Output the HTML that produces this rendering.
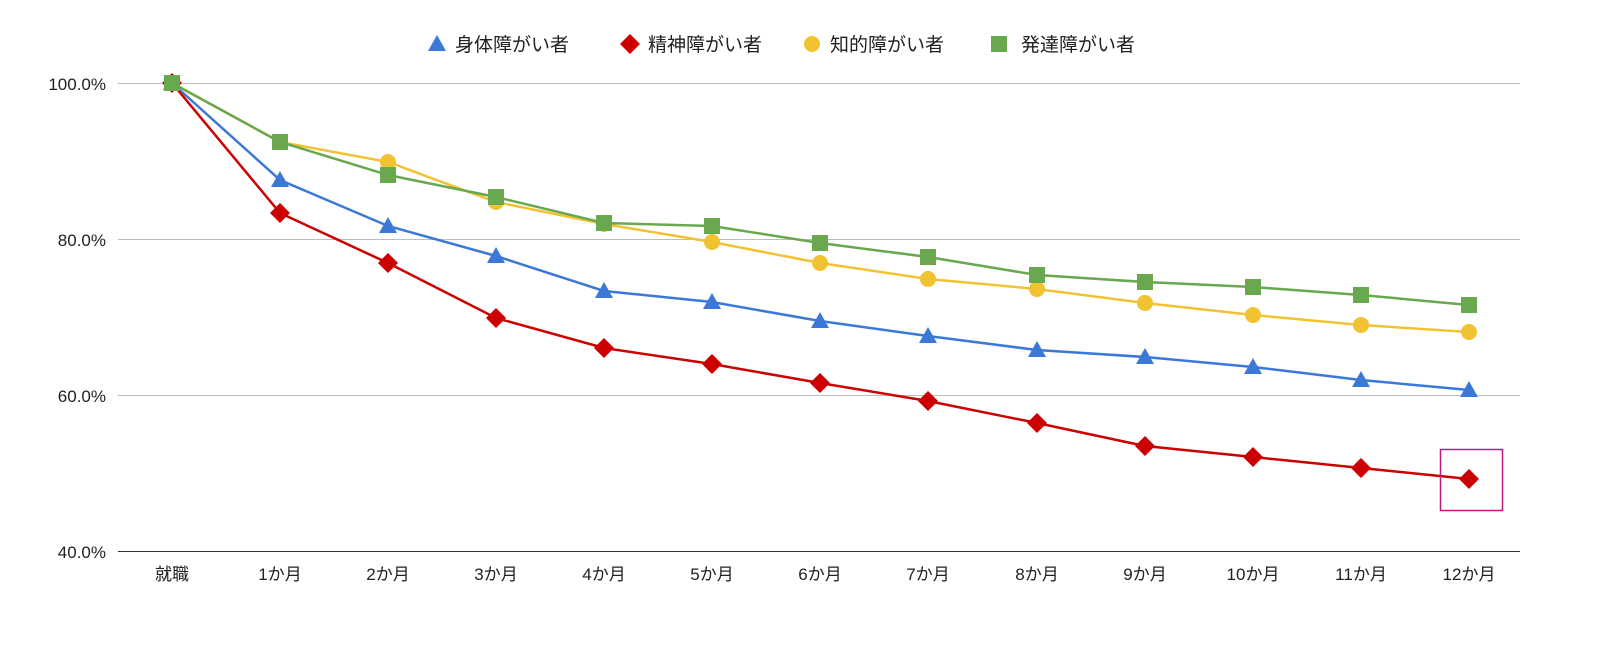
<!DOCTYPE html>
<html><head><meta charset="utf-8"><style>
body{margin:0;background:#fff;}
svg{display:block;font-family:"Liberation Sans","Noto Sans CJK JP",sans-serif;}
</style></head><body>
<svg width="1600" height="651" viewBox="0 0 1600 651">
<g stroke="#bdbdbd" stroke-width="1">
<line x1="118" y1="83.5" x2="1520" y2="83.5"/>
<line x1="118" y1="239.5" x2="1520" y2="239.5"/>
<line x1="118" y1="395.5" x2="1520" y2="395.5"/>
</g>
<line x1="118" y1="551.5" x2="1520" y2="551.5" stroke="#333" stroke-width="1"/>
<g font-size="17" fill="#222" text-anchor="end">
<text x="106" y="90">100.0%</text>
<text x="106" y="246">80.0%</text>
<text x="106" y="402">60.0%</text>
<text x="106" y="558">40.0%</text>
</g>
<g font-size="17" fill="#222" text-anchor="middle">
<text x="172" y="580">就職</text>
<text x="280" y="580">1か月</text>
<text x="388" y="580">2か月</text>
<text x="496" y="580">3か月</text>
<text x="604" y="580">4か月</text>
<text x="712" y="580">5か月</text>
<text x="820" y="580">6か月</text>
<text x="928" y="580">7か月</text>
<text x="1037" y="580">8か月</text>
<text x="1145" y="580">9か月</text>
<text x="1253" y="580">10か月</text>
<text x="1361" y="580">11か月</text>
<text x="1469" y="580">12か月</text>
</g>
<!-- yellow -->
<polyline fill="none" stroke="#f1c232" stroke-width="2.5" points="172,83 280,142 388,162 496,202 604,224 712,242 820,263 928,279 1037,289 1145,303 1253,315 1361,325 1469,332"/>
<g fill="#f1c232">
<circle cx="172" cy="83" r="8"/><circle cx="280" cy="142" r="8"/><circle cx="388" cy="162" r="8"/><circle cx="496" cy="202" r="8"/><circle cx="604" cy="224" r="8"/><circle cx="712" cy="242" r="8"/><circle cx="820" cy="263" r="8"/><circle cx="928" cy="279" r="8"/><circle cx="1037" cy="289" r="8"/><circle cx="1145" cy="303" r="8"/><circle cx="1253" cy="315" r="8"/><circle cx="1361" cy="325" r="8"/><circle cx="1469" cy="332" r="8"/>
</g>
<!-- blue -->
<polyline fill="none" stroke="#3c78d8" stroke-width="2.5" points="172,83 280,180 388,226 496,256 604,291 712,302 820,321 928,336 1037,350 1145,357 1253,367 1361,380 1469,390"/>
<g fill="#3c78d8">
<path id="t" d="M0,-9 L9,7 L-9,7Z" transform="translate(172,83)"/>
<path d="M0,-9 L9,7 L-9,7Z" transform="translate(280,180)"/>
<path d="M0,-9 L9,7 L-9,7Z" transform="translate(388,226)"/>
<path d="M0,-9 L9,7 L-9,7Z" transform="translate(496,256)"/>
<path d="M0,-9 L9,7 L-9,7Z" transform="translate(604,291)"/>
<path d="M0,-9 L9,7 L-9,7Z" transform="translate(712,302)"/>
<path d="M0,-9 L9,7 L-9,7Z" transform="translate(820,321)"/>
<path d="M0,-9 L9,7 L-9,7Z" transform="translate(928,336)"/>
<path d="M0,-9 L9,7 L-9,7Z" transform="translate(1037,350)"/>
<path d="M0,-9 L9,7 L-9,7Z" transform="translate(1145,357)"/>
<path d="M0,-9 L9,7 L-9,7Z" transform="translate(1253,367)"/>
<path d="M0,-9 L9,7 L-9,7Z" transform="translate(1361,380)"/>
<path d="M0,-9 L9,7 L-9,7Z" transform="translate(1469,390)"/>
</g>
<!-- red -->
<polyline fill="none" stroke="#cc0000" stroke-width="2.5" points="172,83 280,213 388,263 496,318 604,348 712,364 820,383 928,401 1037,423 1145,446 1253,457 1361,468 1469,479"/>
<g fill="#cc0000">
<path d="M0,-10 L10,0 L0,10 L-10,0Z" transform="translate(172,83)"/>
<path d="M0,-10 L10,0 L0,10 L-10,0Z" transform="translate(280,213)"/>
<path d="M0,-10 L10,0 L0,10 L-10,0Z" transform="translate(388,263)"/>
<path d="M0,-10 L10,0 L0,10 L-10,0Z" transform="translate(496,318)"/>
<path d="M0,-10 L10,0 L0,10 L-10,0Z" transform="translate(604,348)"/>
<path d="M0,-10 L10,0 L0,10 L-10,0Z" transform="translate(712,364)"/>
<path d="M0,-10 L10,0 L0,10 L-10,0Z" transform="translate(820,383)"/>
<path d="M0,-10 L10,0 L0,10 L-10,0Z" transform="translate(928,401)"/>
<path d="M0,-10 L10,0 L0,10 L-10,0Z" transform="translate(1037,423)"/>
<path d="M0,-10 L10,0 L0,10 L-10,0Z" transform="translate(1145,446)"/>
<path d="M0,-10 L10,0 L0,10 L-10,0Z" transform="translate(1253,457)"/>
<path d="M0,-10 L10,0 L0,10 L-10,0Z" transform="translate(1361,468)"/>
<path d="M0,-10 L10,0 L0,10 L-10,0Z" transform="translate(1469,479)"/>
</g>
<!-- green -->
<polyline fill="none" stroke="#6aa84f" stroke-width="2.5" points="172,83 280,142 388,175 496,197 604,223 712,226 820,243 928,257 1037,275 1145,282 1253,287 1361,295 1469,305"/>
<g fill="#6aa84f">
<rect x="164" y="75" width="16" height="16"/><rect x="272" y="134" width="16" height="16"/><rect x="380" y="167" width="16" height="16"/><rect x="488" y="189" width="16" height="16"/><rect x="596" y="215" width="16" height="16"/><rect x="704" y="218" width="16" height="16"/><rect x="812" y="235" width="16" height="16"/><rect x="920" y="249" width="16" height="16"/><rect x="1029" y="267" width="16" height="16"/><rect x="1137" y="274" width="16" height="16"/><rect x="1245" y="279" width="16" height="16"/><rect x="1353" y="287" width="16" height="16"/><rect x="1461" y="297" width="16" height="16"/>
</g>
<rect x="1440.5" y="449.5" width="62" height="61" fill="none" stroke="#c2187a" stroke-width="1.5"/>
<!-- legend -->
<g font-size="19" fill="#222">
<path d="M0,-9 L9,7 L-9,7Z" transform="translate(437,44)" fill="#3c78d8"/>
<text x="455" y="51">身体障がい者</text>
<path d="M0,-10 L10,0 L0,10 L-10,0Z" transform="translate(630,44)" fill="#cc0000"/>
<text x="648" y="51">精神障がい者</text>
<circle cx="812" cy="44" r="8" fill="#f1c232"/>
<text x="830" y="51">知的障がい者</text>
<rect x="991" y="36" width="16" height="16" fill="#6aa84f"/>
<text x="1021" y="51">発達障がい者</text>
</g>
</svg>
</body></html>
